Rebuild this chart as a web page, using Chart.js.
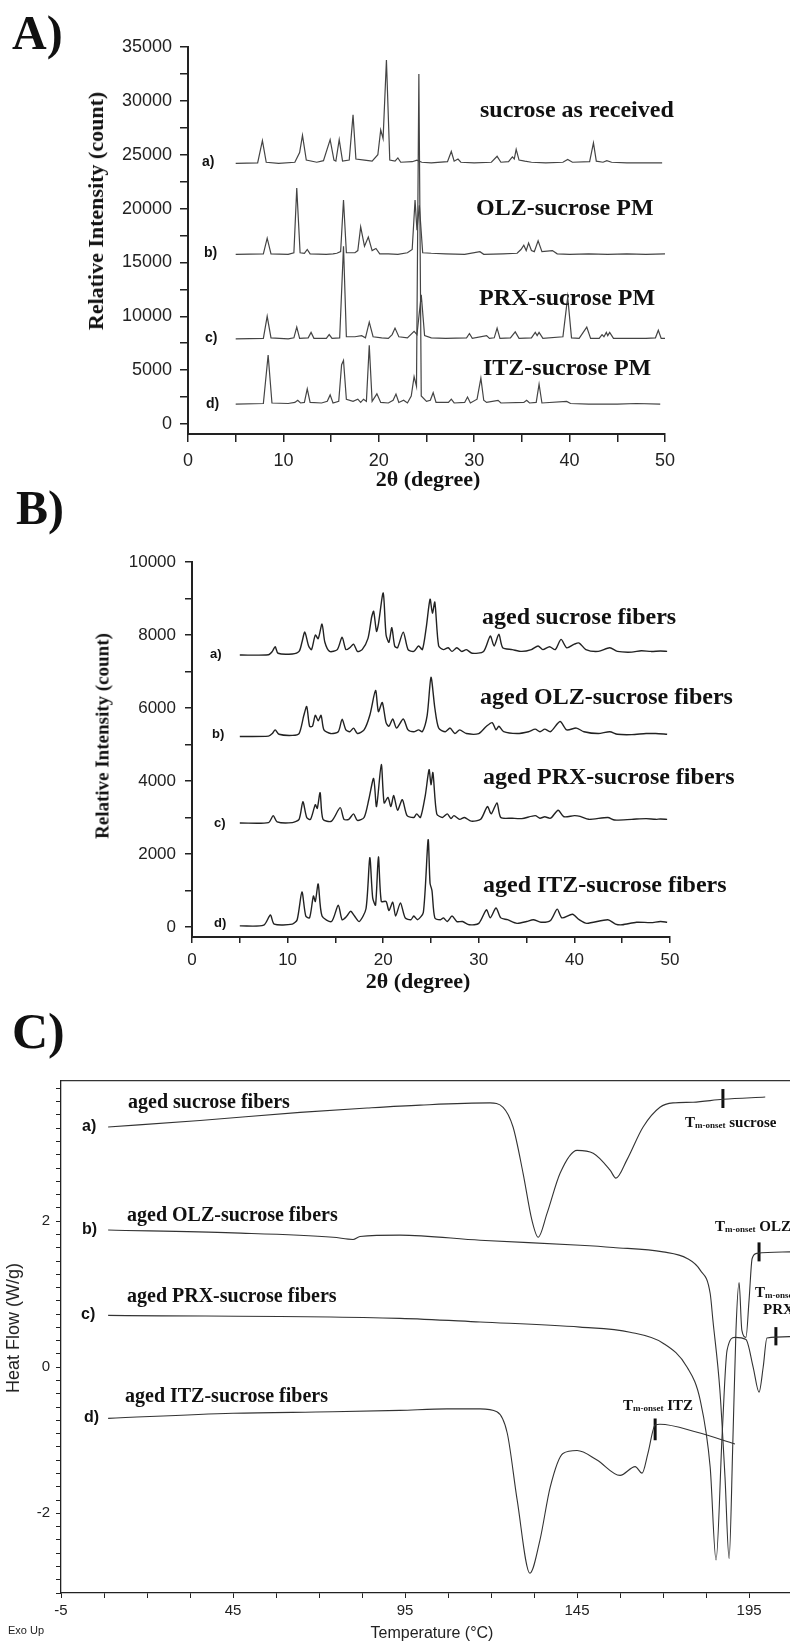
<!DOCTYPE html>
<html>
<head>
<meta charset="utf-8">
<script src="https://cdn.jsdelivr.net/npm/chart.js@4.4.1/dist/chart.umd.min.js"></script>
<style>
html,body{margin:0;padding:0;background:#fff;}
body{width:790px;height:1641px;position:relative;overflow:hidden;}
canvas{position:absolute;left:0;}
.t{position:absolute;white-space:nowrap;line-height:1;color:#111;}
.serif{font-family:"Liberation Serif","Times New Roman",serif;font-weight:bold;}
.sans{font-family:"Liberation Sans",Arial,sans-serif;}
.lab{font-family:"Liberation Sans",Arial,sans-serif;font-weight:bold;}
.rot{transform:translate(-50%,-50%) rotate(-90deg);}
.ctr{transform:translate(-50%,-50%);}
.tm sub{font-size:9px;vertical-align:-1px;}
</style>
</head>
<body>
<canvas id="cA" width="790" height="500" style="top:0"></canvas>
<canvas id="cB" width="790" height="500" style="top:500px"></canvas>
<canvas id="cC" width="790" height="641" style="top:1000px"></canvas>

<!-- panel A -->
<div class="t serif" style="left:12px;top:9px;font-size:48px">A)</div>
<div class="t lab" style="left:202px;top:154px;font-size:14px">a)</div>
<div class="t lab" style="left:204px;top:245px;font-size:14px">b)</div>
<div class="t lab" style="left:205px;top:330px;font-size:14px">c)</div>
<div class="t lab" style="left:206px;top:396px;font-size:14px">d)</div>
<div class="t serif" style="left:480px;top:97px;font-size:24px">sucrose as received</div>
<div class="t serif" style="left:476px;top:195px;font-size:24px">OLZ-sucrose PM</div>
<div class="t serif" style="left:479px;top:285px;font-size:24px">PRX-sucrose PM</div>
<div class="t serif" style="left:483px;top:355px;font-size:24px">ITZ-sucrose PM</div>
<div class="t serif rot" style="left:96px;top:211px;font-size:22px">Relative Intensity (count)</div>
<div class="t serif ctr" style="left:428px;top:479px;font-size:22px">2θ (degree)</div>

<!-- panel B -->
<div class="t serif" style="left:16px;top:484px;font-size:48px">B)</div>
<div class="t lab" style="left:210px;top:647px;font-size:13px">a)</div>
<div class="t lab" style="left:212px;top:727px;font-size:13px">b)</div>
<div class="t lab" style="left:214px;top:816px;font-size:13px">c)</div>
<div class="t lab" style="left:214px;top:916px;font-size:13px">d)</div>
<div class="t serif" style="left:482px;top:604px;font-size:24px">aged sucrose fibers</div>
<div class="t serif" style="left:480px;top:684px;font-size:24px">aged OLZ-sucrose fibers</div>
<div class="t serif" style="left:483px;top:764px;font-size:24px">aged PRX-sucrose fibers</div>
<div class="t serif" style="left:483px;top:872px;font-size:24px">aged ITZ-sucrose fibers</div>
<div class="t serif rot" style="left:102px;top:736px;font-size:19px">Relative Intensity (count)</div>
<div class="t serif ctr" style="left:418px;top:981px;font-size:22px">2θ (degree)</div>

<!-- panel C -->
<div class="t serif" style="left:12px;top:1006px;font-size:50px">C)</div>
<div class="t lab" style="left:82px;top:1118px;font-size:16px">a)</div>
<div class="t lab" style="left:82px;top:1221px;font-size:16px">b)</div>
<div class="t lab" style="left:81px;top:1306px;font-size:16px">c)</div>
<div class="t lab" style="left:84px;top:1409px;font-size:16px">d)</div>
<div class="t serif" style="left:128px;top:1091px;font-size:20px">aged sucrose fibers</div>
<div class="t serif" style="left:127px;top:1204px;font-size:20px">aged OLZ-sucrose fibers</div>
<div class="t serif" style="left:127px;top:1285px;font-size:20px">aged PRX-sucrose fibers</div>
<div class="t serif" style="left:125px;top:1385px;font-size:20px">aged ITZ-sucrose fibers</div>
<div class="t serif tm" style="left:685px;top:1115px;font-size:15px">T<sub>m-onset</sub> sucrose</div>
<div class="t serif tm" style="left:715px;top:1219px;font-size:15px">T<sub>m-onset</sub> OLZ</div>
<div class="t serif tm" style="left:755px;top:1285px;font-size:15px">T<sub>m-onset</sub></div>
<div class="t serif" style="left:763px;top:1302px;font-size:15px">PRX</div>
<div class="t serif tm" style="left:623px;top:1398px;font-size:15px">T<sub>m-onset</sub> ITZ</div>
<div class="t sans rot" style="left:13px;top:1328px;font-size:18px;color:#222">Heat Flow (W/g)</div>
<div class="t sans ctr" style="left:432px;top:1633px;font-size:16px;color:#222">Temperature (°C)</div>
<div class="t sans" style="left:8px;top:1625px;font-size:11px;color:#222">Exo Up</div>

<script>
// ---- panel A: XRD of raw materials / physical mixtures [2theta, count]
var sucroseReceived = [[5,24200],[7.3,24250],[7.8,26300],[8.2,24300],[9.5,24200],[11.2,24300],[11.7,25200],[12.0,26800],[12.4,24500],[13.5,24300],[14.2,24450],[14.9,26400],[15.3,24500],[15.5,24400],[15.85,26400],[16.2,24400],[16.9,24500],[17.3,28700],[17.6,24600],[18.5,24500],[19.3,24400],[19.9,25000],[20.2,27300],[20.45,26500],[20.8,33800],[21.15,24500],[21.7,24400],[22.0,24700],[22.3,24300],[23.5,24350],[24.0,24500],[24.5,24300],[25.5,24250],[27.2,24350],[27.6,25300],[27.9,24400],[28.3,24600],[28.6,24300],[30,24250],[31.8,24300],[32.4,24850],[32.8,24300],[33.6,24350],[34.0,24800],[34.2,24600],[34.4,25500],[34.7,24500],[35.3,24400],[36,24300],[37.5,24250],[39.3,24300],[39.8,24550],[40.3,24300],[42.1,24350],[42.5,26100],[42.8,24400],[43.5,24300],[43.9,24450],[44.4,24300],[46,24250],[48,24250],[49.7,24250]];
var olzPM = [[5,15750],[7.9,15800],[8.3,17250],[8.7,15800],[10.5,15750],[11.1,15900],[11.4,21900],[11.75,15900],[12.2,15850],[12.5,16200],[12.8,15800],[14.5,15750],[15.2,15800],[15.6,15850],[16.0,16000],[16.3,20800],[16.6,15900],[17.5,15900],[17.8,16100],[18.1,18300],[18.5,16500],[18.9,17350],[19.3,16100],[19.7,16300],[20.1,15800],[21,15800],[22,15750],[23,15900],[23.5,16200],[23.8,20800],[24.0,18000],[24.25,20300],[24.6,15900],[25.5,15850],[27,15800],[29,15750],[30.6,16000],[31,15750],[33,15800],[34.5,15850],[34.9,16200],[35.2,16600],[35.45,16100],[35.7,16800],[36.0,16100],[36.3,16000],[36.7,17000],[37.1,16000],[38.2,16100],[38.7,15800],[40,15750],[42,15800],[44,15750],[46,15800],[48,15750],[50,15800]];
var prxPM = [[5,7900],[7.9,7950],[8.3,10000],[8.7,8000],[10.5,7900],[11.1,8000],[11.4,9000],[11.7,7950],[12.6,8000],[12.9,8500],[13.2,7950],[14.5,7950],[14.8,8300],[15.1,7950],[15.9,8000],[16.3,16500],[16.6,8100],[17.5,8100],[18.2,8200],[18.6,8000],[19.0,9460],[19.4,8100],[20.3,8000],[21.0,7950],[21.4,8300],[21.7,8900],[22.1,8100],[23.0,8000],[23.7,8600],[24.0,8300],[24.45,12000],[24.8,8200],[25.5,8000],[27,7950],[29.2,8000],[29.5,8400],[29.8,7950],[31.3,8200],[31.6,7950],[32.1,8000],[32.4,8900],[32.7,7950],[33.8,8000],[34.3,8550],[34.7,7950],[36.0,8000],[36.4,8500],[36.6,8200],[36.8,8500],[37.2,7950],[39.3,8100],[39.8,11800],[40.2,8000],[41.0,7950],[41.8,9000],[42.2,7950],[43.1,7950],[43.4,8300],[43.6,8100],[43.85,8500],[44.0,8200],[44.2,8500],[44.6,7950],[46,7950],[48,7950],[49.0,8000],[49.3,8700],[49.6,7950],[50,7950]];
var itzPM = [[5,1850],[7.9,1900],[8.4,6400],[8.8,1950],[10.5,1900],[11.2,2000],[11.5,2200],[11.8,1950],[12.2,2000],[12.5,3250],[12.8,2000],[14.0,1950],[14.6,2100],[14.9,2700],[15.2,1950],[15.8,2100],[16.1,5500],[16.3,5900],[16.6,2300],[17.3,2100],[17.8,2300],[18.1,2000],[18.4,2300],[18.7,2100],[19.0,7300],[19.3,2100],[19.8,2800],[20.2,2000],[21.0,1950],[21.5,2200],[21.8,2780],[22.1,2000],[22.6,2200],[23.0,1950],[23.4,2600],[23.7,4400],[23.95,3500],[24.2,32500],[24.45,2600],[25.0,2100],[25.4,2200],[25.7,2900],[26.0,2000],[27.3,2000],[27.6,2300],[27.9,1950],[29.0,2000],[29.3,2500],[29.6,1950],[30.3,2300],[30.7,4250],[31.0,2200],[31.3,2000],[32.5,2200],[32.8,1950],[35.2,2000],[35.5,2200],[35.8,1950],[36.5,2000],[36.8,3700],[37.1,1950],[39.7,2100],[40.1,1900],[42,1850],[45,1850],[47,1900],[49.5,1850]];

// ---- panel B: XRD of aged fibers [2theta, count]
var agedSucrose = [[5,7450],[8.0,7460],[8.4,7550],[8.7,7680],[9.0,7500],[10.5,7480],[11.2,7550],[11.5,7800],[11.8,8080],[12.2,7700],[12.5,7600],[12.9,8000],[13.2,7900],[13.6,8300],[13.9,7800],[14.4,7550],[15.2,7600],[15.7,7940],[16.1,7600],[16.5,7650],[16.9,7750],[17.3,7550],[17.8,7600],[18.4,7900],[18.8,8500],[19.0,8650],[19.3,8100],[19.5,8300],[20.0,9150],[20.3,8000],[20.6,7800],[20.9,8200],[21.2,7700],[21.5,7650],[22.1,8080],[22.6,7600],[23.2,7550],[23.7,7700],[24.1,7600],[24.5,8200],[24.9,8980],[25.15,8600],[25.4,8900],[25.8,7700],[26.3,7600],[26.8,7650],[27.2,7550],[27.7,7650],[28.2,7550],[28.7,7600],[29.3,7500],[30.5,7550],[31.2,7970],[31.6,7700],[32.1,8020],[32.5,7650],[33.5,7600],[34.5,7550],[35.5,7600],[36.2,7700],[36.7,7600],[37.4,7680],[38.0,7600],[38.6,7880],[39.2,7650],[40.0,7750],[40.5,7780],[41.2,7600],[42.5,7550],[43.7,7650],[44.5,7550],[46,7530],[47,7570],[48,7550],[49,7560],[49.7,7550]];
var agedOLZ = [[5,5220],[8.0,5230],[8.4,5300],[8.7,5400],[9.1,5280],[10.5,5250],[11.2,5300],[11.7,5800],[12.0,6040],[12.3,5500],[12.6,5500],[12.9,5800],[13.2,5650],[13.5,5800],[13.8,5400],[14.5,5300],[15.3,5350],[15.7,5690],[16.1,5400],[16.5,5350],[16.9,5450],[17.3,5300],[18.0,5400],[18.6,5800],[19.2,6480],[19.5,5900],[19.9,6150],[20.3,5600],[20.6,5500],[21.0,5700],[21.4,5450],[22.1,5700],[22.6,5400],[23.2,5350],[23.7,5400],[24.1,5350],[24.6,5800],[25.0,6840],[25.4,6000],[25.8,5450],[26.5,5350],[27.0,5450],[27.5,5300],[28.0,5400],[28.7,5300],[30.0,5300],[30.8,5500],[31.4,5600],[31.8,5400],[32.1,5500],[32.6,5350],[34,5300],[35.2,5350],[35.9,5420],[36.4,5350],[36.9,5420],[37.5,5350],[38.5,5630],[39.2,5400],[40.2,5450],[41,5350],[42.5,5300],[43.7,5350],[44.5,5280],[46,5270],[47.5,5300],[48.5,5300],[49.7,5280]];
var agedPRX = [[5,2850],[8.0,2860],[8.5,3050],[8.9,2880],[10.5,2860],[11.2,2950],[11.6,3430],[12.0,3000],[12.4,2950],[12.9,3350],[13.1,3250],[13.4,3680],[13.7,2950],[14.6,2900],[15.5,3270],[15.9,2950],[16.4,2950],[16.9,3100],[17.3,2920],[18.0,3000],[18.5,3500],[19.0,4070],[19.3,3300],[19.8,4450],[20.1,3400],[20.5,3550],[20.8,3300],[21.1,3600],[21.5,3200],[22.0,3490],[22.5,3050],[23.2,3000],[23.5,3100],[23.9,3000],[24.4,3600],[24.8,4310],[25.0,3900],[25.2,4230],[25.6,3100],[26.2,3000],[26.7,3100],[27.1,2970],[27.4,3050],[28.0,2950],[28.5,3000],[29.2,2900],[30.2,2950],[30.9,3300],[31.3,3100],[31.9,3400],[32.3,3000],[33.5,2980],[34.5,2970],[35.9,3050],[36.4,2980],[36.9,3020],[37.5,2980],[38.3,3200],[38.9,3020],[40.0,3050],[40.6,3030],[41.5,2950],[43.5,3000],[44.2,2930],[46,2950],[47.5,2970],[48.5,2950],[49,2960],[49.7,2950]];
var agedITZ = [[5,30],[7.5,50],[8.2,330],[8.6,80],[10.5,80],[11.0,200],[11.5,960],[11.9,300],[12.3,250],[12.7,850],[12.9,700],[13.2,1180],[13.6,300],[14.6,150],[15.3,600],[15.7,200],[16.2,300],[16.6,430],[17.0,300],[17.5,150],[18.2,500],[18.6,1900],[18.9,800],[19.2,600],[19.5,1920],[19.8,700],[20.3,700],[20.6,450],[21.0,680],[21.3,300],[21.8,660],[22.3,250],[22.9,200],[23.2,300],[23.6,200],[24.2,400],[24.7,2390],[24.9,1200],[25.1,1000],[25.4,250],[26.0,200],[26.3,250],[26.7,150],[27.2,300],[27.7,150],[28.3,150],[29.0,60],[30.0,100],[30.8,470],[31.2,250],[31.8,520],[32.3,250],[33.0,200],[34,100],[35,150],[35.7,200],[36.5,130],[37.5,180],[38.2,490],[38.7,250],[39.8,350],[40.5,200],[41.3,100],[43.5,200],[44.3,80],[45,60],[46.5,130],[48,120],[49,150],[49.7,130]];

// ---- panel C: DSC of aged fibers [temperature, heat flow]
var dscSucrose = [[8.7,3.29],[35.4,3.38],[64.5,3.49],[84.0,3.55],[99.4,3.59],[119.7,3.62],[123.5,3.56],[126.4,3.29],[129.3,2.66],[131.9,2.01],[133.7,1.78],[136.3,2.11],[140.1,2.66],[145.0,2.97],[149.7,2.93],[154.6,2.70],[156.3,2.59],[159.5,2.84],[164.2,3.29],[169.1,3.56],[172.9,3.62],[178.7,3.63],[187.4,3.67],[199.7,3.70]];
var dscOLZ = [[8.7,1.88],[45,1.84],[74.1,1.78],[79.9,1.75],[81.9,1.79],[93.5,1.81],[116.8,1.74],[145.9,1.67],[155.5,1.64],[170.0,1.58],[177.0,1.49],[180.8,1.33],[183.7,1.01],[184.5,0.64],[186.5,-0.3],[188.0,-1.5],[189.2,-2.62],[190.3,-1.00],[191.2,0.51],[192.1,1.16],[192.9,0.51],[194.1,0.41],[195.0,0.92],[195.9,1.49],[197.3,1.56],[206.9,1.58]];
var dscPRX = [[8.7,0.71],[93.5,0.67],[116.8,0.62],[145.9,0.55],[160.4,0.48],[170.0,0.33],[177.0,0.0],[180.8,-0.45],[183.7,-1.37],[185.4,-2.64],[187.2,-0.90],[188.6,0.23],[190.9,0.41],[194.1,0.38],[196.2,0.0],[197.9,-0.34],[199.1,0.0],[200.2,0.40],[206.9,0.42]];
var dscITZ = [[8.7,-0.70],[45,-0.63],[74,-0.61],[93.5,-0.59],[107.2,-0.57],[116.8,-0.57],[121.7,-0.61],[124.7,-0.90],[127.6,-1.82],[131.3,-2.82],[134.2,-2.37],[137.2,-1.64],[140.9,-1.18],[145.0,-1.14],[150.8,-1.27],[157.5,-1.48],[161.9,-1.36],[163.9,-1.45],[165.6,-1.18],[167.7,-0.79],[169.1,-0.78],[179.9,-0.89],[190.9,-1.05]];
// onset markers (short vertical bars)
var onsetSucrose = [[187.4,3.55],[187.4,3.81]];
var onsetOLZ = [[197.9,1.45],[197.9,1.71]];
var onsetPRX = [[202.8,0.30],[202.8,0.55]];
var onsetITZ = [[167.7,-0.70],[167.7,-1.00]];

// ticks
var thetaTicks = [0,5,10,15,20,25,30,35,40,45,50];
var thetaLabels = [0,10,20,30,40,50];
var countTicksA = [0,2500,5000,7500,10000,12500,15000,17500,20000,22500,25000,27500,30000,32500,35000];
var countLabelsA = [0,5000,10000,15000,20000,25000,30000,35000];
var countTicksB = [0,1000,2000,3000,4000,5000,6000,7000,8000,9000,10000];
var countLabelsB = [0,2000,4000,6000,8000,10000];
var tempTicks = [-5,7.5,20,32.5,45,57.5,70,82.5,95,107.5,120,132.5,145,157.5,170,182.5,195];
var tempLabels = [-5,45,95,145,195];
var heatTicks = [];
for (var k = -17; k <= 21; k++) heatTicks.push((2 * k) / 11);
var heatLabels = [-2,0,2];

function xy(pairs) {
  return pairs.map(function(p) { return {x: p[0], y: p[1]}; });
}

function line(pairs, w, color, mode) {
  return {
    data: xy(pairs), showLine: true, fill: false, pointRadius: 0,
    borderColor: color || '#333', borderWidth: w || 1.1,
    tension: mode === 'round' ? 0.25 : 0,
    cubicInterpolationMode: mode === 'smooth' ? 'monotone' : 'default'
  };
}

function axis(o) {
  return {
    type: 'linear', position: o.pos, min: o.min, max: o.max,
    afterBuildTicks: function(s) { s.ticks = o.ticks.map(function(v) { return {value: v}; }); },
    afterFit: function(s) { if (o.pos === 'left') s.width = o.size; else s.height = o.size; },
    ticks: {
      autoSkip: false, maxRotation: 0, padding: o.pad, color: '#222',
      font: {family: '"Liberation Sans", Arial, sans-serif', size: o.fs},
      callback: function(v) { return o.labels.indexOf(v) >= 0 ? String(v) : ''; }
    },
    grid: {display: true, drawOnChartArea: false, drawTicks: true, tickLength: o.tl, color: '#222', lineWidth: o.lw},
    border: {display: true, color: '#222', width: o.bw}
  };
}

function makeChart(id, sets, scales, pad) {
  return new Chart(document.getElementById(id), {
    type: 'scatter',
    data: {datasets: sets},
    options: {
      responsive: false, animation: false, events: [],
      layout: {padding: pad},
      plugins: {legend: {display: false}, tooltip: {enabled: false}},
      scales: scales
    }
  });
}

makeChart('cA', [
  line(sucroseReceived, 1.2, '#444'),
  line(olzPM, 1.2, '#444'),
  line(prxPM, 1.2, '#444'),
  line(itzPM, 1.2, '#444')
], {
  x: axis({pos: 'bottom', min: 0, max: 50, ticks: thetaTicks, labels: thetaLabels, size: 66, pad: 8, fs: 18, tl: 8, lw: 1.5, bw: 2}),
  y: axis({pos: 'left', min: -930, max: 35000, ticks: countTicksA, labels: countLabelsA, size: 188, pad: 8, fs: 18, tl: 8, lw: 1.5, bw: 2})
}, {left: 0, top: 47, right: 125, bottom: 0});

makeChart('cB', [
  line(agedSucrose, 1.4, '#222', 'round'),
  line(agedOLZ, 1.4, '#222', 'round'),
  line(agedPRX, 1.4, '#222', 'round'),
  line(agedITZ, 1.4, '#222', 'round')
], {
  x: axis({pos: 'bottom', min: 0, max: 50, ticks: thetaTicks, labels: thetaLabels, size: 63, pad: 7, fs: 17, tl: 6, lw: 1.5, bw: 2}),
  y: axis({pos: 'left', min: -274, max: 10000, ticks: countTicksB, labels: countLabelsB, size: 192, pad: 9, fs: 17, tl: 7, lw: 1.5, bw: 2})
}, {left: 0, top: 62, right: 120, bottom: 0});

var topFrame = {
  type: 'linear', position: 'top', min: -5, max: 206.9,
  afterFit: function(s) { s.height = 0; },
  ticks: {display: false},
  grid: {display: false, drawTicks: false},
  border: {display: true, color: '#333', width: 1.3}
};

makeChart('cC', [
  line(dscSucrose, 1.1, '#333', 'smooth'),
  line(dscOLZ, 1.1, '#333', 'smooth'),
  line(dscPRX, 1.1, '#333', 'smooth'),
  line(dscITZ, 1.1, '#333', 'smooth'),
  line(onsetSucrose, 3, '#111'),
  line(onsetOLZ, 3, '#111'),
  line(onsetPRX, 3, '#111'),
  line(onsetITZ, 3, '#111')
], {
  x: axis({pos: 'bottom', min: -5, max: 206.9, ticks: tempTicks, labels: tempLabels, size: 48, pad: 4, fs: 15, tl: 5, lw: 1, bw: 1.3}),
  x2: topFrame,
  y: axis({pos: 'left', min: -34 / 11, max: 3.92, ticks: heatTicks, labels: heatLabels, size: 61, pad: 6, fs: 15, tl: 5, lw: 1, bw: 1.3})
}, {left: 0, top: 81, right: 0, bottom: 0});
</script>
</body>
</html>
